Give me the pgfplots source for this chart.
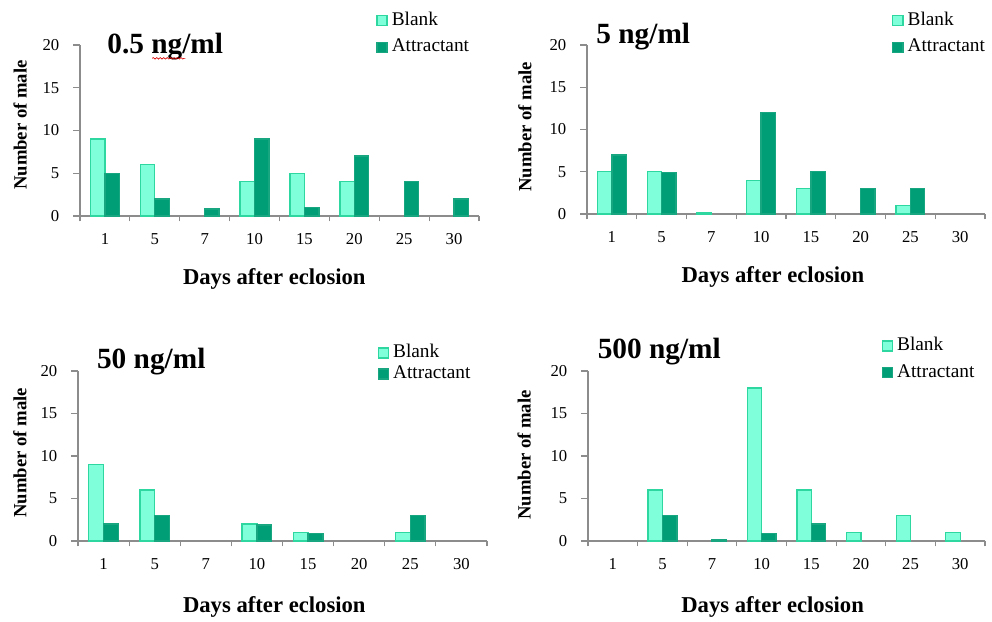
\documentclass[border=0pt]{standalone}
\usepackage{pgfplots}
\pgfplotsset{compat=1.18}
\usepackage{fontspec}
\setmainfont{Liberation Serif}
\usetikzlibrary{decorations.pathmorphing}

\definecolor{blankfill}{RGB}{128,255,219}
\definecolor{blankedge}{RGB}{46,214,160}
\definecolor{attrfill}{RGB}{0,158,118}
\definecolor{attredge}{RGB}{24,166,128}
\definecolor{axisgray}{RGB}{140,140,140}

\pgfplotsset{
  panel/.style={
    scale only axis,
    anchor=south west,
    clip=false,
    ybar=0pt,
    bar width=0.29,
    axis x line*=bottom,
    axis y line*=left,
    axis line style={draw=axisgray, line width=0.9pt},
    xmin=-0.5, xmax=7.5, ymin=0, ymax=20,
    ytick={0,5,10,15,20},
    xtick={0,...,7},
    xticklabels={1,5,7,10,15,20,25,30},
    minor xtick={-0.5,0.5,...,7.5},
    major x tick style={draw=none},
    tick align=outside,
    major tick length=5pt,
    minor tick length=4pt,
    tick style={draw=axisgray, line width=0.9pt},
    /pgf/number format/assume math mode=true,
    ticklabel style={font=\fontsize{12.5}{14}\selectfont},
    yticklabel style={xshift=-7pt},
    xticklabel style={yshift=-4.5pt},
    xlabel={Days after eclosion},
    ylabel={Number of male},
    xlabel style={font=\bfseries\fontsize{17}{19}\selectfont, anchor=center},
    ylabel style={font=\bfseries\fontsize{14}{16}\selectfont, anchor=center, rotate=0},
    legend style={draw=none, fill=none, inner sep=0pt, anchor=north west,
      font=\fontsize{14.5}{16}\selectfont, column sep=3pt, row sep=7pt,
      nodes={inner sep=0pt, text height=10pt, text depth=3pt}},
    legend cell align=left,
  },
  blankbar/.style={fill=blankfill, draw=blankedge, line width=1pt,
    legend image code/.code={\draw[##1] (0pt,-3.7pt) rectangle (7.6pt,3.7pt);}},
  attrbar/.style={fill=attrfill, draw=attredge, line width=1pt,
    legend image code/.code={\draw[##1] (0pt,-3.7pt) rectangle (7.6pt,3.7pt);}},
}

\begin{document}
\begin{tikzpicture}
\useasboundingbox (0pt,0pt) rectangle (744pt,465.75pt);

% 0.5 ng/ml
\begin{axis}[panel, at={(60pt,303.75pt)}, width=299.25pt, height=128.25pt,
  xlabel style={at={(axis description cs:0.487,-0.368)}},
  ylabel style={at={(axis description cs:-0.15,0.532)}},
  legend style={at={(axis description cs:0.742,1.195)}}]
\addplot[blankbar] coordinates {(0,9) (1,6) (3,4) (4,5) (5,4)};
\addplot[attrbar] coordinates {(0,5) (1,2) (2,0.8) (3,9) (4,1) (5,7) (6,4) (7,2)};
\legend{Blank, Attractant}
\node[anchor=base west, font=\bfseries\fontsize{22}{24}\selectfont, inner sep=0pt]
  at (rel axis cs:0.068,0.951) {0.5 ng/ml};
\draw[red!85!black, line width=0.5pt, decorate,
  decoration={snake, amplitude=0.55pt, segment length=2.6pt}]
  (rel axis cs:0.181,0.922) -- (rel axis cs:0.264,0.922);
\end{axis}

% 5 ng/ml
\begin{axis}[panel, at={(440.25pt,305.25pt)}, width=298.5pt, height=126.75pt,
  xlabel style={at={(axis description cs:0.467,-0.373)}},
  ylabel style={at={(axis description cs:-0.156,0.515)}},
  legend style={at={(axis description cs:0.766,1.197)}}]
\addplot[blankbar] coordinates {(0,5) (1,5) (2,0.2) (3,4) (4,3) (6,1)};
\addplot[attrbar] coordinates {(0,7) (1,4.9) (3,12) (4,5) (5,3) (6,3)};
\legend{Blank, Attractant}
\node[anchor=base west, font=\bfseries\fontsize{22}{24}\selectfont, inner sep=0pt]
  at (rel axis cs:0.023,1.006) {5 ng/ml};
\end{axis}

% 50 ng/ml
\begin{axis}[panel, at={(58.5pt,60pt)}, width=306.75pt, height=127.5pt,
  xlabel style={at={(axis description cs:0.480,-0.388)}},
  ylabel style={at={(axis description cs:-0.142,0.518)}},
  legend style={at={(axis description cs:0.732,1.158)}, row sep=2.75pt}]
\addplot[blankbar] coordinates {(0,9) (1,6) (3,2) (4,1) (6,1)};
\addplot[attrbar] coordinates {(0,2) (1,3) (3,1.9) (4,0.9) (6,3)};
\legend{Blank, Attractant}
\node[anchor=base west, font=\bfseries\fontsize{22}{24}\selectfont, inner sep=0pt]
  at (rel axis cs:0.046,1.016) {50 ng/ml};
\end{axis}

% 500 ng/ml
\begin{axis}[panel, at={(441pt,60pt)}, width=297.75pt, height=127.5pt,
  xlabel style={at={(axis description cs:0.465,-0.388)}},
  ylabel style={at={(axis description cs:-0.161,0.506)}},
  legend style={at={(axis description cs:0.739,1.2)}}]
\addplot[blankbar] coordinates {(1,6) (3,18) (4,6) (5,1) (6,3) (7,1)};
\addplot[attrbar] coordinates {(1,3) (2,0.2) (3,0.9) (4,2)};
\legend{Blank, Attractant}
\node[anchor=base west, font=\bfseries\fontsize{22}{24}\selectfont, inner sep=0pt]
  at (rel axis cs:0.024,1.071) {500 ng/ml};
\end{axis}
\end{tikzpicture}
\end{document}
